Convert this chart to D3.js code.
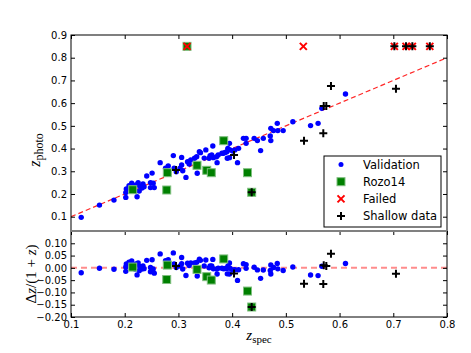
<!DOCTYPE html>
<html>
<head>
<meta charset="utf-8">
<script src="https://cdnjs.cloudflare.com/ajax/libs/d3/7.8.5/d3.min.js"></script>
<style>
	body { margin: 0; background: #ffffff; }
	text { font-family: "DejaVu Sans", sans-serif; }
	.math { font-family: "Liberation Serif", "DejaVu Serif", serif; }
</style>
</head>
<body>
<div id="chart"></div>
<script>

// validation sample (spectroscopic vs photometric redshift)
var valZspec = [0.119, 0.153, 0.180, 0.202, 0.202, 0.203, 0.208, 0.213, 0.217, 0.221,
	0.225, 0.228, 0.223, 0.232, 0.236, 0.219, 0.227, 0.241, 0.251, 0.248,
	0.253, 0.248, 0.255, 0.234,
	0.266, 0.276, 0.281, 0.2905, 0.306, 0.317, 0.320, 0.292, 0.303, 0.308,
	0.296, 0.314, 0.306, 0.334, 0.335, 0.339, 0.330, 0.323,
	0.341, 0.351, 0.359, 0.362, 0.365, 0.357, 0.371, 0.374, 0.381, 0.384,
	0.387, 0.390, 0.392, 0.395, 0.396, 0.401, 0.405, 0.412, 0.391, 0.395,
	0.410, 0.372, 0.348, 0.364,
	0.421, 0.426, 0.426, 0.441, 0.447, 0.453, 0.458, 0.471, 0.472, 0.472,
	0.477, 0.484, 0.485, 0.495, 0.513, 0.546, 0.560, 0.567, 0.611];
var valZphoto = [0.097, 0.151, 0.173, 0.185, 0.206, 0.222, 0.236, 0.247, 0.226, 0.240,
	0.250, 0.235, 0.188, 0.226, 0.232, 0.213, 0.213, 0.279, 0.292, 0.250,
	0.247, 0.228, 0.228, 0.244,
	0.338, 0.313, 0.323, 0.369, 0.361, 0.342, 0.332, 0.313, 0.313, 0.302,
	0.298, 0.273, 0.328, 0.364, 0.291, 0.386, 0.357, 0.350,
	0.382, 0.394, 0.369, 0.372, 0.360, 0.357, 0.364, 0.372, 0.379, 0.379,
	0.383, 0.386, 0.401, 0.423, 0.394, 0.389, 0.394, 0.401, 0.357, 0.360,
	0.338, 0.338, 0.358, 0.411,
	0.445, 0.445, 0.423, 0.445, 0.435, 0.391, 0.445, 0.455, 0.435, 0.489,
	0.479, 0.511, 0.479, 0.479, 0.518, 0.501, 0.511, 0.577, 0.640];

// rozo14 clusters
var rozoZspec = [0.2149, 0.2793, 0.2782, 0.3346, 0.3527, 0.3612, 0.3843, 0.4286, 0.4364, 0.316];
var rozoZphoto = [0.2188, 0.2937, 0.2175, 0.3263, 0.3042, 0.2937, 0.4346, 0.2937, 0.2075, 0.85];

// failed fits, put at the placeholder z_photo = 0.85
var failedValue = 0.85;
var failedZspec = [0.316, 0.5325, 0.702, 0.7237, 0.7355, 0.768];
var failedZphoto = [0.85, 0.85, 0.85, 0.85, 0.85, 0.85];

// shallow data
var shallowZspec = [0.2955, 0.4035, 0.4364, 0.5338, 0.5697, 0.5705, 0.5753, 0.584, 0.705,
	0.702, 0.7237, 0.7355, 0.768];
var shallowZphoto = [0.3056, 0.3716, 0.2074, 0.4346, 0.467, 0.5874, 0.5874, 0.6754, 0.6636,
	0.85, 0.85, 0.85, 0.85];

// tick values
var xTicks = [0.1, 0.2, 0.3, 0.4, 0.5, 0.6, 0.7, 0.8];
var photoTicks = [0.1, 0.2, 0.3, 0.4, 0.5, 0.6, 0.7, 0.8, 0.9];
var deltaTicks = [-0.20, -0.15, -0.10, -0.05, 0.00, 0.05, 0.10];
var legendLabels = ["Validation", "Rozo14", "Failed", "Shallow data"];

// layout of the two panels
var width = 471,
	height = 353,
	plot = {left: 71, right: 447, top: 35, split: 231, bottom: 317, topAxesBottom: 265};

var svg = d3.select("#chart")
	.append("svg")
	.attr("width", width)
	.attr("height", height);

// scales
var x = d3.scaleLinear().domain([0.1, 0.8]).range([plot.left, plot.right]);
var yTop = d3.scaleLinear().domain([0, 0.9]).range([239.4, plot.top]);
var yBot = d3.scaleLinear().domain([-0.2, 0.15]).range([plot.bottom, plot.split]);

// zips two arrays into points, with the residual dz/(1+z) (none for failed fits)
function makePoints(zs, zp){

	return zs.map(function(z, i){

		var dz = zp[i] >= failedValue ? null : (zp[i] - z) / (1 + z);
		return {zs: z, zp: zp[i], dz: dz};
	});
}

var validation = makePoints(valZspec, valZphoto),
	rozo = makePoints(rozoZspec, rozoZphoto),
	failed = makePoints(failedZspec, failedZphoto),
	shallow = makePoints(shallowZspec, shallowZphoto);

// clip paths for both panels
var defs = svg.append("defs");
defs.append("clipPath").attr("id", "clipTop")
	.append("rect")
	.attr("x", plot.left).attr("y", plot.top)
	.attr("width", plot.right - plot.left).attr("height", plot.split - plot.top);
defs.append("clipPath").attr("id", "clipBot")
	.append("rect")
	.attr("x", plot.left).attr("y", plot.split)
	.attr("width", plot.right - plot.left).attr("height", plot.bottom - plot.split);

var plusPath = "M-4,0H4M0,-4V4",
	crossPath = "M-3.5,-3.5L3.5,3.5M-3.5,3.5L3.5,-3.5";

// draws all markers of one panel
function drawPanel(g, yscale, key){

	function has(d){ return d[key] !== null; }

	g.selectAll(".val")
		.data(validation.filter(has))
		.enter()
		.append("circle")
		.attr("cx", function(d){ return x(d.zs); })
		.attr("cy", function(d){ return yscale(d[key]); })
		.attr("r", 2.7)
		.attr("fill", "#0000ff");

	g.selectAll(".rozo")
		.data(rozo.filter(has))
		.enter()
		.append("rect")
		.attr("x", function(d){ return x(d.zs) - 4; })
		.attr("y", function(d){ return yscale(d[key]) - 4; })
		.attr("width", 8)
		.attr("height", 8)
		.attr("fill", "#008000")
		.attr("stroke", "#7fbf7f")
		.attr("stroke-width", 1);

	g.selectAll(".failed")
		.data(failed.filter(has))
		.enter()
		.append("path")
		.attr("d", crossPath)
		.attr("transform", function(d){ return "translate(" + x(d.zs) + "," + yscale(d[key]) + ")"; })
		.attr("stroke", "#ff0000")
		.attr("stroke-width", 2)
		.attr("fill", "none");

	g.selectAll(".shallow")
		.data(shallow.filter(has))
		.enter()
		.append("path")
		.attr("d", plusPath)
		.attr("transform", function(d){ return "translate(" + x(d.zs) + "," + yscale(d[key]) + ")"; })
		.attr("stroke", "#000000")
		.attr("stroke-width", 2)
		.attr("fill", "none");
}

// top panel: one-to-one line and points
var topPanel = svg.append("g").attr("clip-path", "url(#clipTop)");
topPanel.append("line")
	.attr("x1", x(0.1)).attr("y1", yTop(0.1))
	.attr("x2", x(0.8)).attr("y2", yTop(0.8))
	.attr("stroke", "#ff0000")
	.attr("stroke-opacity", 0.85)
	.attr("stroke-width", 1.2)
	.attr("stroke-dasharray", "5,3");
drawPanel(topPanel, yTop, "zp");

// bottom panel: zero line and residuals
var botPanel = svg.append("g").attr("clip-path", "url(#clipBot)");
botPanel.append("line")
	.attr("x1", x(0.1)).attr("y1", yBot(0))
	.attr("x2", x(0.8)).attr("y2", yBot(0))
	.attr("stroke", "#ff0000")
	.attr("stroke-opacity", 0.45)
	.attr("stroke-width", 2)
	.attr("stroke-dasharray", "6,4");
drawPanel(botPanel, yBot, "dz");

// axes with inward ticks
function tickAxis(axis, ticks, fmt){

	return axis.tickValues(ticks).tickFormat(fmt).tickSizeInner(-4).tickSizeOuter(0).tickPadding(4);
}

function cleanAxis(g){

	g.select(".domain").remove();
	g.selectAll("text").attr("font-size", 10).attr("font-family", "DejaVu Sans").attr("fill", "#000");
	g.selectAll("line").attr("stroke", "#000");
}

svg.append("g")
	.attr("transform", "translate(" + plot.left + ",0)")
	.call(tickAxis(d3.axisLeft(yTop), photoTicks, d3.format(".1f")))
	.call(cleanAxis);
svg.append("g")
	.attr("transform", "translate(" + plot.right + ",0)")
	.call(tickAxis(d3.axisRight(yTop), photoTicks, ""))
	.call(cleanAxis);
svg.append("g")
	.attr("transform", "translate(0," + plot.top + ")")
	.call(tickAxis(d3.axisTop(x), xTicks, ""))
	.call(cleanAxis);

svg.append("g")
	.attr("transform", "translate(" + plot.left + ",0)")
	.call(tickAxis(d3.axisLeft(yBot), deltaTicks, d3.format(".2f")))
	.call(cleanAxis);
svg.append("g")
	.attr("transform", "translate(" + plot.right + ",0)")
	.call(tickAxis(d3.axisRight(yBot), deltaTicks, ""))
	.call(cleanAxis);
svg.append("g")
	.attr("transform", "translate(0," + plot.split + ")")
	.call(tickAxis(d3.axisTop(x), xTicks, ""))
	.call(cleanAxis);
svg.append("g")
	.attr("transform", "translate(0," + plot.bottom + ")")
	.call(tickAxis(d3.axisBottom(x), xTicks, d3.format(".1f")))
	.call(cleanAxis);

// frames
svg.append("rect")
	.attr("x", plot.left).attr("y", plot.top)
	.attr("width", plot.right - plot.left).attr("height", plot.bottom - plot.top)
	.attr("fill", "none").attr("stroke", "#000").attr("stroke-width", 1);
svg.append("line")
	.attr("x1", plot.left).attr("x2", plot.right)
	.attr("y1", plot.split).attr("y2", plot.split)
	.attr("stroke", "#808080").attr("stroke-width", 2);

// axis labels (the top axes runs down behind the residual panel)
var ylab = svg.append("text")
	.attr("class", "math")
	.attr("transform", "translate(40," + ((plot.top + plot.topAxesBottom) / 2) + ") rotate(-90)")
	.attr("text-anchor", "middle")
	.attr("font-size", 16);
ylab.append("tspan").attr("font-style", "italic").text("z");
ylab.append("tspan").attr("font-size", 12).attr("dy", 3).text("photo");

svg.append("text")
	.attr("class", "math")
	.attr("transform", "translate(36," + ((plot.split + plot.bottom) / 2) + ") rotate(-90)")
	.attr("text-anchor", "middle")
	.attr("font-size", 15)
	.html("Δ<tspan font-style='italic'>z</tspan>/(1 + <tspan font-style='italic'>z</tspan>)");

var xlab = svg.append("text")
	.attr("class", "math")
	.attr("x", (plot.left + plot.right) / 2)
	.attr("y", 340)
	.attr("text-anchor", "middle")
	.attr("font-size", 15);
xlab.append("tspan").attr("font-style", "italic").text("z");
xlab.append("tspan").attr("font-size", 11).attr("dy", 3).text("spec");

// legend
var legend = svg.append("g").attr("transform", "translate(324,156)");
legend.append("rect")
	.attr("width", 117).attr("height", 71)
	.attr("fill", "#fff").attr("stroke", "#000").attr("stroke-width", 1);

var entry = legend.selectAll(".entry")
	.data(legendLabels)
	.enter()
	.append("g")
	.attr("transform", function(d, i){ return "translate(17," + (8.5 + i * 17.2) + ")"; });

entry.append("text")
	.attr("x", 22)
	.attr("y", 4.2)
	.attr("font-size", 11.5)
	.text(function(d){ return d; });

entry.filter(function(d, i){ return i === 0; })
	.append("circle").attr("r", 2.5).attr("fill", "#0000ff");
entry.filter(function(d, i){ return i === 1; })
	.append("rect").attr("x", -4).attr("y", -4).attr("width", 8).attr("height", 8)
	.attr("fill", "#008000").attr("stroke", "#7fbf7f");
entry.filter(function(d, i){ return i === 2; })
	.append("path").attr("d", crossPath).attr("stroke", "#ff0000").attr("stroke-width", 2);
entry.filter(function(d, i){ return i === 3; })
	.append("path").attr("d", plusPath).attr("stroke", "#000").attr("stroke-width", 2);

</script>
</body>
</html>
